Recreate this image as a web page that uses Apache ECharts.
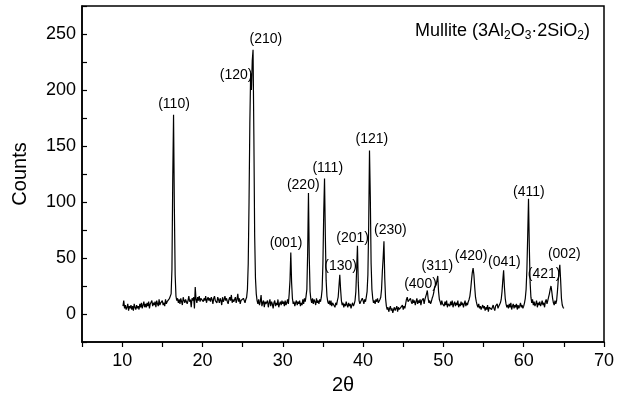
<!DOCTYPE html>
<html>
<head>
<meta charset="utf-8">
<script src="https://cdn.jsdelivr.net/npm/echarts@6/dist/echarts.min.js"></script>
<style>html,body{margin:0;padding:0;background:#fff}#chart{width:628px;height:400px}</style>
</head>
<body>
<div id="chart"></div>
<script>
// XRD scan: start angle, step, and counts
const startAngle = 10.1;
const stepAngle = 0.1;
const counts = [
  7,12,5,8,4,6,9,3,7,
  5,8,4,7,3,9,6,4,8,5,
  7,4,9,6,10,5,8,11,6,9,
  6,10,7,11,5,9,8,12,7,10,
  8,11,6,12,9,7,13,8,10,9,
  12,8,10,7,13,9,11,10,12,14,
  13,18,40,120,178,95,35,16,12,14,
  10,13,9,14,11,8,15,12,10,13,
  14,9,12,16,11,13,6,14,12,15,
  5,24,13,10,15,12,16,11,14,13,
  15,11,14,12,16,10,13,15,12,14,
  11,15,13,9,14,16,12,13,10,15,
  13,10,14,12,8,15,11,13,16,12,
  14,11,9,13,15,12,17,10,13,11,
  12,15,10,13,18,11,14,9,12,13,
  11,14,12,10,13,15,22,45,100,170,
  215,200,226,236,160,70,32,18,12,9,
  13,8,11,17,7,10,12,6,11,9,
  8,12,6,10,13,7,11,9,5,10,
  12,7,10,8,13,6,9,11,8,12,
  9,11,7,12,8,10,13,9,18,30,
  55,28,14,9,11,7,10,12,8,11,
  9,12,7,10,8,13,9,14,11,16,
  22,55,108,50,20,13,10,14,9,13,
  11,8,14,10,12,9,13,11,15,22,
  45,90,121,70,30,16,11,9,12,8,
  12,7,10,9,11,6,10,8,12,15,
  25,35,22,12,8,10,6,9,7,11,
  8,6,10,7,9,5,8,10,7,9,
  12,20,40,61,28,12,9,11,10,14,
  12,9,13,11,15,20,35,80,146,105,
  45,22,14,10,12,9,13,11,14,10,
  11,13,15,22,38,50,65,32,14,7,
  4,6,2,5,7,3,5,1,4,6,
  3,5,7,2,6,4,3,6,5,8,
  4,7,5,9,13,15,11,12,10,14,
  11,9,13,10,12,8,11,14,9,12,
  10,13,8,12,11,14,9,13,14,18,
  21,14,10,12,9,11,14,16,19,24,
  24,26,30,34,20,13,11,8,12,9,
  10,7,11,8,12,6,9,10,7,11,
  8,12,6,9,11,7,10,8,12,6,
  9,7,11,8,10,6,9,12,7,10,
  8,11,13,16,22,30,37,41,35,24,
  15,11,8,6,9,5,7,4,6,8,
  5,7,3,6,4,8,2,6,5,7,
  4,6,8,5,3,7,6,9,5,7,
  8,10,13,20,30,39,24,14,9,6,
  8,5,9,6,10,4,7,9,5,8,
  6,9,4,8,5,7,10,6,8,5,
  7,10,14,22,40,70,103,60,28,15,
  10,13,8,11,7,9,12,6,10,8,
  11,7,9,12,8,10,6,11,13,9,
  12,15,18,22,25,20,14,10,8,12,
  9,12,20,30,38,44,30,14,8,6,
  5
];

// Peak (hkl) labels and the data point each label is centred on
const hklLabels   = ['(110)','(120)','(210)','(001)','(220)','(111)','(130)','(201)','(121)','(230)','(400)','(311)','(420)','(041)','(411)','(421)','(002)'];
const labelAngles = [16.46, 24.2, 27.9, 30.4, 32.55, 35.6, 37.2, 38.7, 41.1, 43.4, 47.15, 49.25, 53.45, 57.6, 60.65, 62.55, 65.05];
const labelCounts = [187, 213, 245, 63, 115, 130, 43, 68, 156, 75, 27, 43, 52, 46, 109, 36, 53];

const xTicks = [10,20,30,40,50,60,70];
const yTicks = [0,50,100,150,200,250];

const FONT = '"Liberation Sans", Arial, Helvetica, sans-serif';

const scan = counts.map((c, i) => [+(startAngle + i * stepAngle).toFixed(2), c]);
const labelData = hklLabels.map((n, i) => ({ name: n, value: [labelAngles[i], labelCounts[i]] }));

const chart = echarts.init(document.getElementById('chart'), null, { renderer: 'canvas' });
chart.setOption({
  animation: false,
  backgroundColor: '#fff',
  title: {
    text: '{a|Mullite (3Al}{s|2}{a|O}{s|3}{a|·2SiO}{s|2}{a|)}',
    right: 38,
    top: 20,
    padding: 0,
    textStyle: {
      fontWeight: 'normal',
      rich: {
        a: { fontFamily: FONT, fontSize: 18, fontWeight: 'normal', color: '#000', lineHeight: 22, verticalAlign: 'middle' },
        s: { fontFamily: FONT, fontSize: 12, fontWeight: 'normal', color: '#000', lineHeight: 13, verticalAlign: 'bottom' }
      }
    }
  },
  grid: {
    left: 82, right: 24, top: 6, bottom: 56,
    show: true, borderColor: '#000', borderWidth: 1.5, backgroundColor: 'transparent'
  },
  xAxis: {
    type: 'value', min: 5, max: 70, interval: 5,
    name: '2θ', nameLocation: 'middle', nameGap: 33,
    nameTextStyle: { fontFamily: FONT, fontSize: 20, color: '#000' },
    axisLine: { show: true, onZero: false, lineStyle: { color: '#000', width: 1.5 } },
    axisTick: { show: true, inside: false, length: 5, lineStyle: { color: '#000', width: 1.2 } },
    axisLabel: {
      fontFamily: FONT, fontSize: 18, color: '#000', margin: 10,
      formatter: v => (xTicks.indexOf(v) >= 0 ? String(v) : '')
    },
    splitLine: { show: false }
  },
  yAxis: {
    type: 'value', min: -25, max: 275, interval: 25,
    name: 'Counts', nameLocation: 'middle', nameGap: 52, nameRotate: 90,
    nameTextStyle: { fontFamily: FONT, fontSize: 20, color: '#000' },
    axisLine: { show: true, onZero: false, lineStyle: { color: '#000', width: 1.5 } },
    axisTick: { show: true, inside: true, length: 5, lineStyle: { color: '#000', width: 1.2 } },
    axisLabel: {
      fontFamily: FONT, fontSize: 18, color: '#000', margin: 6,
      formatter: v => (yTicks.indexOf(v) >= 0 ? String(v) : '')
    },
    splitLine: { show: false }
  },
  series: [
    {
      type: 'line', data: scan, showSymbol: false, symbol: 'none',
      lineStyle: { color: '#000', width: 1.2 }, z: 2
    },
    {
      type: 'scatter', data: labelData, symbol: 'circle', symbolSize: 0,
      itemStyle: { color: '#000', opacity: 1 },
      label: {
        show: true, position: 'inside', formatter: p => p.name,
        fontFamily: FONT, fontSize: 14, color: '#000', textBorderWidth: 0
      },
      z: 3
    }
  ]
});
</script>
</body>
</html>
